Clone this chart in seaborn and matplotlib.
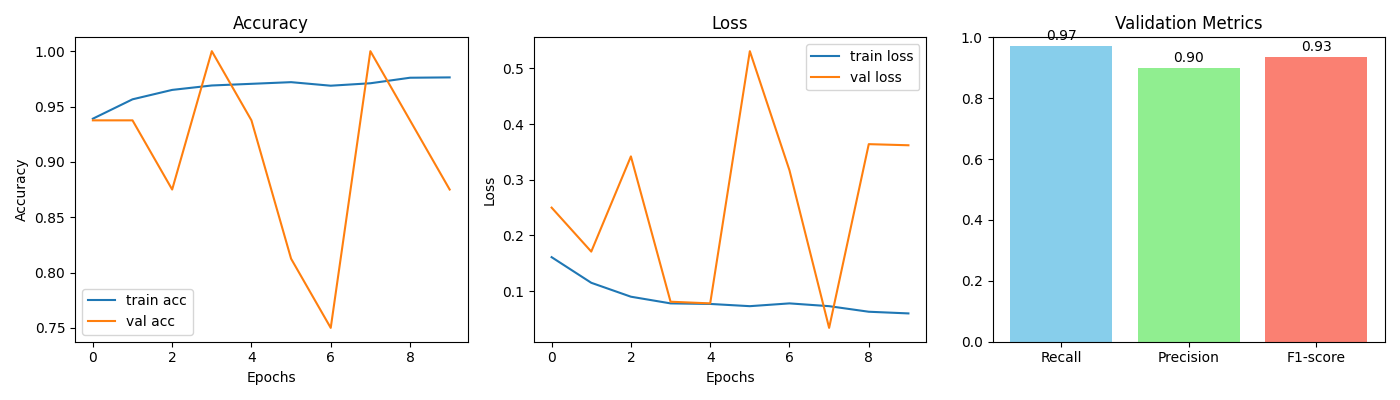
import matplotlib
matplotlib.use("Agg")
import matplotlib.pyplot as plt
import seaborn as sns
import pandas as pd

epochs = list(range(10))
train_acc = [0.939, 0.9565, 0.965, 0.969, 0.9705, 0.972, 0.9688, 0.971, 0.976, 0.9763]
val_acc = [0.9375, 0.9375, 0.875, 1.0, 0.9375, 0.8125, 0.75, 1.0, 0.9375, 0.875]
train_loss = [0.161, 0.115, 0.09, 0.078, 0.077, 0.073, 0.078, 0.073, 0.063, 0.06]
val_loss = [0.25, 0.171, 0.342, 0.081, 0.078, 0.531, 0.317, 0.034, 0.364, 0.362]
metric_names = ["Recall", "Precision", "F1-score"]
metric_values = [0.97, 0.90, 0.935]
metric_labels = ["0.97", "0.90", "0.93"]
metric_colors = ["skyblue", "lightgreen", "salmon"]

fig, axes = plt.subplots(1, 3, figsize=(14, 4), dpi=100)

ax = axes[0]
sns.lineplot(x=epochs, y=train_acc, ax=ax, label="train acc", color="C0")
sns.lineplot(x=epochs, y=val_acc, ax=ax, label="val acc", color="C1")
ax.set_title("Accuracy")
ax.set_xlabel("Epochs")
ax.set_ylabel("Accuracy")
ax.legend(loc="lower left")

ax = axes[1]
sns.lineplot(x=epochs, y=train_loss, ax=ax, label="train loss", color="C0")
sns.lineplot(x=epochs, y=val_loss, ax=ax, label="val loss", color="C1")
ax.set_title("Loss")
ax.set_xlabel("Epochs")
ax.set_ylabel("Loss")
ax.legend(loc="upper right")

ax = axes[2]
df = pd.DataFrame({"metric": metric_names, "value": metric_values})
sns.barplot(data=df, x="metric", y="value", hue="metric", palette=metric_colors,
            ax=ax, saturation=1, width=0.8, legend=False)
ax.set_xlim(-0.54, 2.54)
ax.set_ylim(0, 1)
ax.set_title("Validation Metrics")
ax.set_xlabel("")
ax.set_ylabel("")
for i, (v, t) in enumerate(zip(metric_values, metric_labels)):
    ax.text(i, v + 0.01, t, ha="center", va="bottom")

fig.tight_layout()
fig.savefig("out.png", dpi=100)
